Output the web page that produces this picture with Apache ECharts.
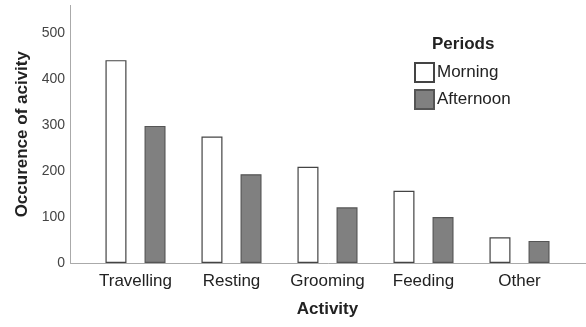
<!DOCTYPE html>
<html>
<head>
<meta charset="utf-8">
<script src="https://cdn.jsdelivr.net/npm/echarts@6/dist/echarts.min.js"></script>
<style>
  html, body { margin: 0; padding: 0; background: #fff; }
  #chart { width: 586px; height: 327px; }
</style>
</head>
<body>
<div id="chart"></div>
<script>
var categories = ['Travelling', 'Resting', 'Grooming', 'Feeding', 'Other']
var morning = [441, 275, 209, 157, 56]
var afternoon = [298, 193, 121, 100, 48]
var yMin = 0
var yMax = 560
var yStep = 100

var font = 'Liberation Sans, Arial, sans-serif'
var chart = echarts.init(document.getElementById('chart'))

var option = {
  animation: false,
  textStyle: { fontFamily: font },
  title: {
    text: 'Periods',
    left: 432,
    top: 36,
    padding: 0,
    textStyle: { fontFamily: font, fontSize: 17, fontWeight: 'bold', color: '#222' }
  },
  legend: {
    data: ['Morning', 'Afternoon'],
    orient: 'vertical',
    left: 414,
    top: 62,
    padding: 0,
    itemWidth: 19,
    itemHeight: 19,
    itemGap: 6,
    icon: 'rect',
    textStyle: { fontFamily: font, fontSize: 17, color: '#222', padding: [0, 0, 0, -2] }
  },
  grid: [
    // bars sit in this one
    { left: 87.5, right: 18.5, top: 5.4, bottom: 64 },
    // axis frame, wider than the bar area
    { left: 70.5, right: 0, top: 5.4, bottom: 64 }
  ],
  xAxis: [
    {
      type: 'category',
      gridIndex: 0,
      data: categories,
      axisLine: { show: false },
      axisTick: { show: false },
      axisLabel: { fontFamily: font, fontSize: 17, color: '#222', margin: 10, interval: 0 },
      name: 'Activity',
      nameLocation: 'middle',
      nameGap: 38,
      nameTextStyle: { fontFamily: font, fontSize: 17, fontWeight: 'bold', color: '#222' }
    },
    {
      type: 'value',
      gridIndex: 1,
      min: 0,
      max: 1,
      axisLine: { show: true, lineStyle: { color: '#aaa', width: 1 } },
      axisTick: { show: false },
      axisLabel: { show: false },
      splitLine: { show: false }
    }
  ],
  yAxis: [
    {
      type: 'value',
      gridIndex: 0,
      min: yMin,
      max: yMax,
      show: false
    },
    {
      type: 'value',
      gridIndex: 1,
      min: yMin,
      max: yMax,
      interval: yStep,
      axisLine: { show: true, lineStyle: { color: '#aaa', width: 1 } },
      axisTick: { show: false },
      splitLine: { show: false },
      axisLabel: { fontFamily: font, fontSize: 14, color: '#444', margin: 5.5, showMaxLabel: false },
      name: 'Occurence of acivity',
      nameLocation: 'middle',
      nameGap: 40,
      nameTextStyle: { fontFamily: font, fontSize: 17, fontWeight: 'bold', color: '#222' }
    }
  ],
  series: [
    {
      name: 'Morning',
      type: 'bar',
      xAxisIndex: 0,
      yAxisIndex: 0,
      data: morning,
      barWidth: 21,
      barGap: '86%',
      itemStyle: { color: '#fff', borderColor: '#444', borderWidth: 1.2 }
    },
    {
      name: 'Afternoon',
      type: 'bar',
      xAxisIndex: 0,
      yAxisIndex: 0,
      data: afternoon,
      barWidth: 21,
      itemStyle: { color: '#808080', borderColor: '#555', borderWidth: 1.2 }
    }
  ]
}

chart.setOption(option)
</script>
</body>
</html>
